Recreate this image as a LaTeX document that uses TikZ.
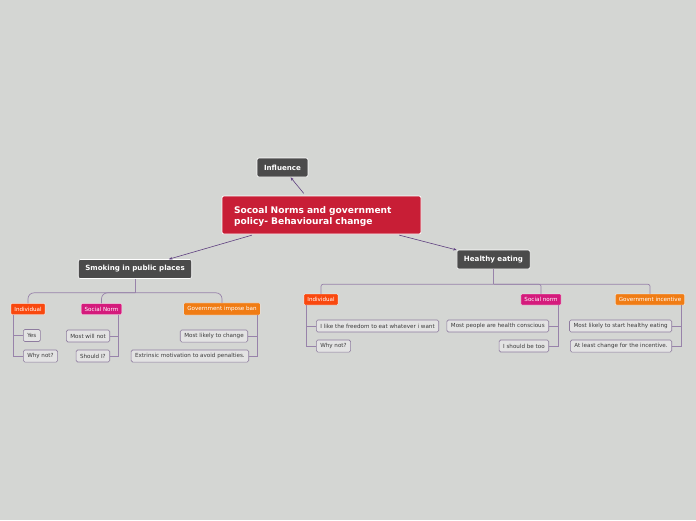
\documentclass[tikz,border=0pt]{standalone}
\usepackage{fontspec}
\setmainfont{DejaVu Sans}
\usetikzlibrary{arrows.meta,positioning,calc}
\definecolor{mmbg}{HTML}{D4D6D3}
\definecolor{mmdark}{HTML}{4B4B4B}
\definecolor{mmred}{HTML}{C81E36}
\definecolor{mmorred}{HTML}{F9480E}
\definecolor{mmpink}{HTML}{D41B7C}
\definecolor{mmorange}{HTML}{F07C14}
\definecolor{mmleaf}{HTML}{E3E3E3}
\definecolor{mmedge}{HTML}{8E7C9F}
\definecolor{mmtext}{HTML}{3A3A3A}
\definecolor{mmline}{HTML}{9883AA}
\definecolor{mmarrow}{HTML}{5E3F80}
\tikzset{
  rootbox/.style={rectangle,rounded corners=2pt,draw=white,line width=0.7pt,
                  fill=mmred,text=white,align=left,text width=175pt,inner xsep=12pt,
                  minimum height=38pt,font=\fontsize{9.1}{11}\selectfont\bfseries},
  topic/.style={rectangle,rounded corners=2pt,draw=white,line width=0.6pt,
                fill=mmdark,text=white,inner xsep=7pt,minimum height=19pt,
                font=\fontsize{7.1}{8}\selectfont\bfseries},
  tag/.style={rectangle,rounded corners=1pt,draw=white,line width=0.3pt,
              text=white,inner xsep=3.5pt,minimum height=10.5pt,
              font=\fontsize{5.6}{6.5}\selectfont},
  leaf/.style={rectangle,rounded corners=1.5pt,draw=mmedge,line width=0.6pt,
               fill=mmleaf,text=mmtext,inner xsep=4pt,minimum height=12pt,
               font=\fontsize{5.6}{6.4}\selectfont},
  link/.style={draw=mmline,line width=0.7pt},
  arr/.style={-{Stealth[length=3.5pt]},draw=mmarrow,line width=0.6pt,shorten <=3pt},
}
\begin{document}
\begin{tikzpicture}[x=1pt,y=-1pt]
\fill[mmbg] (0,0) rectangle (696,520);
\useasboundingbox (0,0) rectangle (696,520);

% main topics
\node[rootbox] (root) at (321.5,215) {\rule{0pt}{10.5pt}Socoal Norms and government\\policy- Behavioural change};
\node[topic] (infl) at (282.5,167.5) {Influence};
\node[topic] (smoke) at (135,269) {Smoking in public places};
\node[topic] (health) at (493.5,259.5) {Healthy eating};

\draw[arr] (root) -- (infl);
\draw[arr] (root) -- (smoke);
\draw[arr] (root) -- (health);

% smoking branch
\node[tag,fill=mmorred] (sind) at (28,309) {Individual};
\node[tag,fill=mmpink] (snrm) at (101.5,309) {Social Norm};
\node[tag,fill=mmorange] (sgov) at (222,309) {Government impose ban};

\draw[link] (smoke.south) -- ++(0,14) coordinate (sfork);
\draw[link,rounded corners=6pt] (sfork) -| (sind.north);
\draw[link,rounded corners=6pt] (sfork) -| (snrm.north);
\draw[link,rounded corners=6pt] (sfork) -| (sgov.north);

\node[leaf,anchor=west] (syes) at (23,335.5) {Yes};
\node[leaf,anchor=west] (swhy) at (23,356) {Why not?};
\node[leaf,anchor=east] (smost) at (110,336) {Most will not};
\node[leaf,anchor=east] (sshould) at (110,356) {Should I?};
\node[leaf,anchor=east] (slikely) at (248,336) {Most likely to change};
\node[leaf,anchor=east] (sextr) at (249,356) {Extrinsic motivation to avoid penalties.};

\draw[link] ([xshift=3pt]sind.south west) |- (syes.west);
\draw[link] ([xshift=3pt]sind.south west) |- (swhy.west);
\draw[link] ([xshift=-4pt]snrm.south east) |- (smost.east);
\draw[link] ([xshift=-4pt]snrm.south east) |- (sshould.east);
\draw[link] ([xshift=-3pt]sgov.south east) |- (slikely.east);
\draw[link] ([xshift=-3pt]sgov.south east) |- (sextr.east);

% healthy eating branch
\node[tag,fill=mmorred] (hind) at (321,299.5) {Individual};
\node[tag,fill=mmpink] (hnrm) at (541,299.5) {Social norm};
\node[tag,fill=mmorange] (hgov) at (650,299.5) {Government incentive};

\draw[link] (health.south) -- ++(0,15) coordinate (hfork);
\draw[link,rounded corners=2pt] (hfork) -| (hind.north);
\draw[link,rounded corners=2pt] (hfork) -| (hnrm.north);
\draw[link,rounded corners=2pt] (hfork) -| (hgov.north);

\node[leaf,anchor=west] (hfree) at (316,326) {I like the freedom to eat whatever i want};
\node[leaf,anchor=west] (hwhy) at (316,346) {Why not?};
\node[leaf,anchor=east] (hmost) at (549,326) {Most people are health conscious};
\node[leaf,anchor=east] (htoo) at (549,346) {I should be too};
\node[leaf,anchor=east] (hstart) at (672,326) {Most likely to start healthy eating};
\node[leaf,anchor=east] (hleast) at (672,346) {At least change for the incentive.};

\draw[link] ([xshift=3pt]hind.south west) |- (hfree.west);
\draw[link] ([xshift=3pt]hind.south west) |- (hwhy.west);
\draw[link] ([xshift=-3pt]hnrm.south east) |- (hmost.east);
\draw[link] ([xshift=-3pt]hnrm.south east) |- (htoo.east);
\draw[link] ([xshift=-4pt]hgov.south east) |- (hstart.east);
\draw[link] ([xshift=-4pt]hgov.south east) |- (hleast.east);
\end{tikzpicture}
\end{document}
